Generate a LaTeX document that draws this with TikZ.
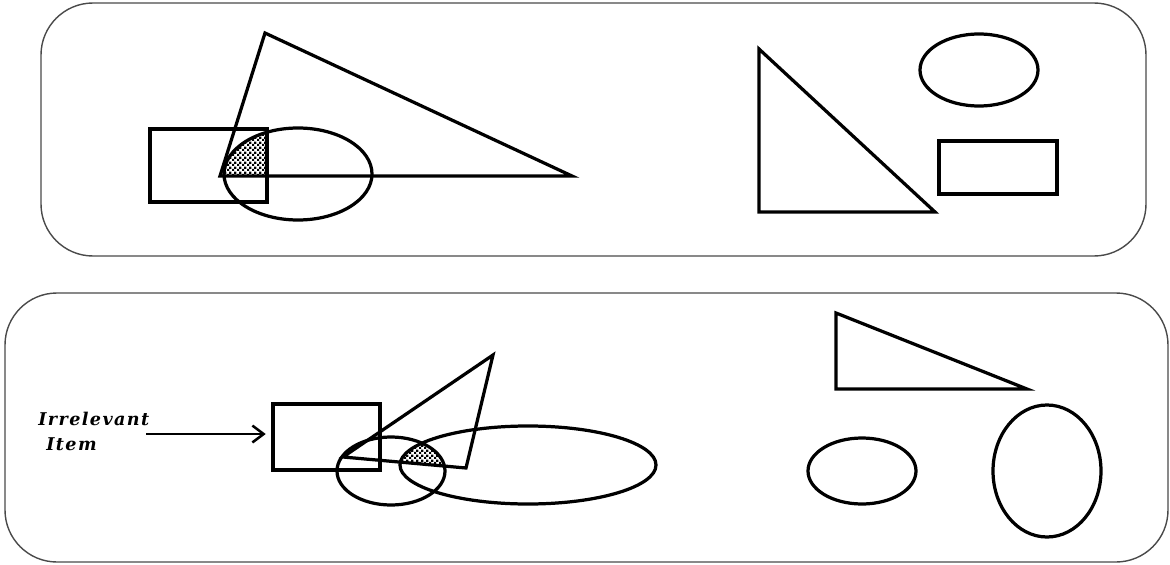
\documentclass[tikz,border=0pt]{standalone}
\usepackage{fontspec}
\setmainfont{Liberation Serif}
\newfontfamily\labelfont[LetterSpace=8]{DejaVu Serif}
\usepackage{tikz}
\usetikzlibrary{arrows.meta,patterns}
\definecolor{framegray}{HTML}{4A4A4A}
\pgfdeclarepatternformonly{finechecker}{\pgfpointorigin}
  {\pgfqpoint{3.6pt}{3.6pt}}{\pgfqpoint{3.6pt}{3.6pt}}
  {\pgfpathrectangle{\pgfpointorigin}{\pgfqpoint{1.8pt}{1.8pt}}
   \pgfpathrectangle{\pgfqpoint{1.8pt}{1.8pt}}{\pgfqpoint{1.8pt}{1.8pt}}
   \pgfusepath{fill}}
\tikzset{
  panel/.style={
    draw=framegray, line width=1pt, rounded corners=1.3cm
  },
  figline/.style={
    draw=black, line width=2.3pt
  },
  hatch/.style={
    pattern=finechecker, pattern color=black
  },
  pointer/.style={
    -{Straight Barb[length=8pt,width=12pt]}, line width=1.8pt
  },
  labeltext/.style={
    font=\labelfont\fontsize{12.5}{14}\selectfont\bfseries\itshape,
    inner sep=0pt, anchor=west
  },
}

\begin{document}
\begin{tikzpicture}[x=0.025cm, y=-0.025cm]
  \useasboundingbox (0,0) rectangle (1170,565);

  % ── Panels ────────────────
  \draw[panel] (41,3) rectangle (1146,256);
  \draw[panel] (5,293) rectangle (1168,562);

  % ── Top: overlapping shapes ───────
  \begin{scope}
    \clip (220,176) -- (265,33) -- (572,176) -- cycle;
    \clip (150,129) rectangle (267,202);
    \fill[hatch] (298,174) ellipse [x radius=74, y radius=46];
  \end{scope}
  \draw[figline] (150,129) rectangle (267,202);
  \draw[figline] (298,174) ellipse [x radius=74, y radius=46];
  \draw[figline] (220,176) -- (265,33) -- (572,176) -- cycle;

  % ── Top: separate shapes ──────────
  \draw[figline] (759,49) -- (759,212) -- (935,212) -- cycle;
  \draw[figline] (979,70) ellipse [x radius=59, y radius=36];
  \draw[figline] (939,141) rectangle (1057,194);

  % ── Bottom: overlapping shapes ────
  \begin{scope}
    \clip (343,457) -- (493,355) -- (466,468) -- cycle;
    \clip (391,471) ellipse [x radius=54, y radius=34];
    \fill[hatch] (528,465) ellipse [x radius=128, y radius=39];
  \end{scope}
  \node[figline, minimum width=2.675cm, minimum height=1.65cm,
    inner sep=0pt] (irrbox) at (326.5,437) {};
  \draw[figline] (343,457) -- (493,355) -- (466,468) -- cycle;
  \draw[figline] (391,471) ellipse [x radius=54, y radius=34];
  \draw[figline] (528,465) ellipse [x radius=128, y radius=39];

  % ── Bottom: label and pointer ─────
  \node[labeltext] (irrtop) at (38,419) {Irrelevant};
  \node[labeltext] (irrbot) at (46,444) {Item};
  \coordinate (tail) at (146,434);
  \draw[pointer, shorten >=4pt] (tail) -- (tail -| irrbox.west);

  % ── Bottom: separate shapes ───────
  \draw[figline] (836,313) -- (836,389) -- (1027,389) -- cycle;
  \draw[figline] (862,471) ellipse [x radius=54, y radius=33];
  \draw[figline] (1047,471) ellipse [x radius=54, y radius=66];
\end{tikzpicture}
\end{document}
